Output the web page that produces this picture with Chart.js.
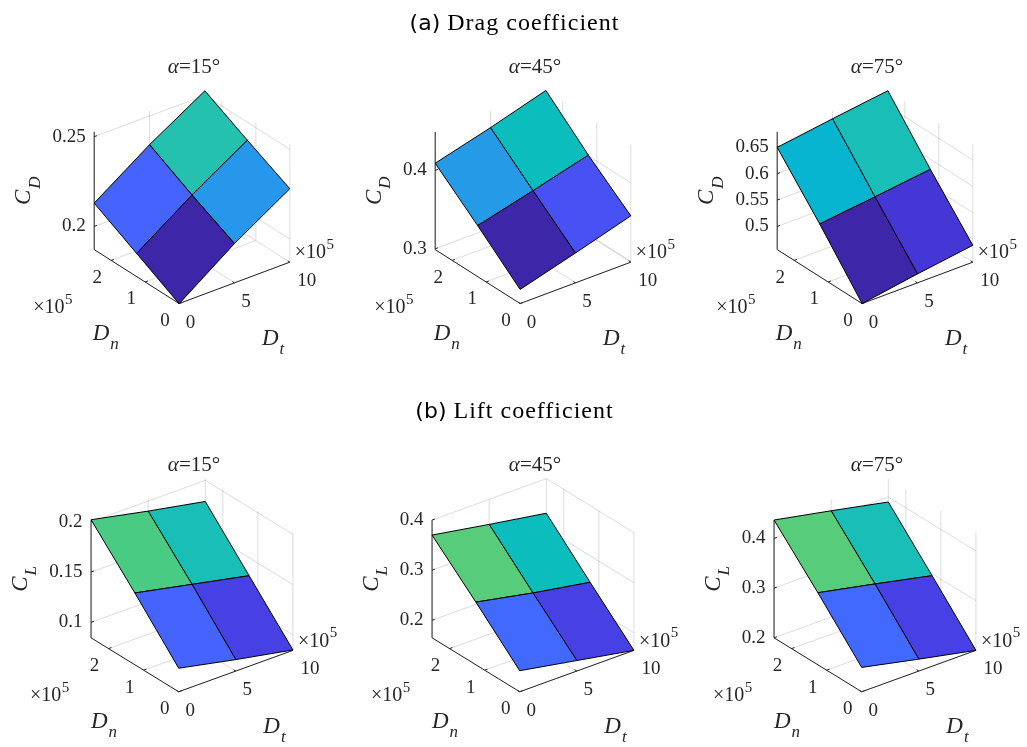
<!DOCTYPE html>
<html>
<head>
<meta charset="utf-8">
<title>Drag and lift coefficient surfaces</title>
<script src="https://cdn.jsdelivr.net/npm/chart.js@4.4.1/dist/chart.umd.min.js"></script>
<style>
  html, body { margin: 0; padding: 0; background: #fff; }
  canvas { display: block; }
</style>
</head>
<body>
<canvas id="surfaces" width="1027" height="747"></canvas>
<script>
/* Datos (D_n y D_t en unidades de 10^5) */
const angles = [15, 45, 75];
const dnGrid = [0, 1.25, 2.5];
const dtGrid = [0, 5, 10];
const dnTicks = [0, 1, 2];
const dtTicks = [0, 5, 10];

// filas = D_n (0, 1.25, 2.5), columnas = D_t (0, 5, 10)
const cd15 = [[0.187, 0.209, 0.228], [0.200, 0.221, 0.240], [0.213, 0.234, 0.2525]];
const cd45 = [[0.317, 0.337, 0.358], [0.364, 0.382, 0.401], [0.409, 0.428, 0.449]];
const cd75 = [[0.456, 0.473, 0.488], [0.556, 0.568, 0.581], [0.650, 0.665, 0.679]];
const cl15 = [[0.108, 0.096, 0.085], [0.156, 0.144, 0.132], [0.202, 0.190, 0.179]];
const cl45 = [[0.207, 0.186, 0.165], [0.290, 0.267, 0.247], [0.370, 0.350, 0.331]];
const cl75 = [[0.249, 0.224, 0.200], [0.345, 0.321, 0.296], [0.437, 0.414, 0.390]];

const cdLimits = [[0.1871, 0.2527], [0.299, 0.449], [0.456, 0.6795]];
const clLimits = [[0.0846, 0.2017], [0.165, 0.4], [0.2, 0.437]];
const cdTicks = [[0.2, 0.25], [0.3, 0.4], [0.5, 0.55, 0.6, 0.65]];
const clTicks = [[0.1, 0.15, 0.2], [0.2, 0.3, 0.4], [0.2, 0.3, 0.4]];

/* Mapa de colores parula (64) */
const parula = [
  [0.2422,0.1504,0.6603],[0.2504,0.1650,0.7076],[0.2578,0.1818,0.7511],[0.2647,0.1978,0.7952],
  [0.2706,0.2147,0.8364],[0.2751,0.2342,0.8710],[0.2783,0.2559,0.8991],[0.2803,0.2782,0.9221],
  [0.2813,0.3006,0.9414],[0.2810,0.3228,0.9579],[0.2795,0.3447,0.9717],[0.2760,0.3667,0.9829],
  [0.2699,0.3892,0.9906],[0.2602,0.4123,0.9952],[0.2440,0.4358,0.9988],[0.2206,0.4603,0.9973],
  [0.1963,0.4847,0.9892],[0.1834,0.5074,0.9798],[0.1786,0.5289,0.9682],[0.1764,0.5499,0.9520],
  [0.1687,0.5703,0.9359],[0.1540,0.5902,0.9218],[0.1460,0.6091,0.9079],[0.1380,0.6276,0.8973],
  [0.1248,0.6459,0.8883],[0.1113,0.6635,0.8763],[0.0952,0.6798,0.8598],[0.0689,0.6948,0.8394],
  [0.0297,0.7082,0.8163],[0.0036,0.7203,0.7917],[0.0067,0.7312,0.7660],[0.0433,0.7411,0.7394],
  [0.0964,0.7500,0.7120],[0.1408,0.7584,0.6842],[0.1717,0.7670,0.6554],[0.1938,0.7758,0.6251],
  [0.2161,0.7843,0.5923],[0.2470,0.7918,0.5567],[0.2906,0.7973,0.5188],[0.3406,0.8008,0.4789],
  [0.3909,0.8029,0.4354],[0.4456,0.8024,0.3909],[0.5044,0.7993,0.3480],[0.5616,0.7942,0.3045],
  [0.6174,0.7876,0.2612],[0.6720,0.7793,0.2227],[0.7242,0.7698,0.1910],[0.7738,0.7598,0.1646],
  [0.8203,0.7498,0.1535],[0.8634,0.7406,0.1596],[0.9035,0.7330,0.1774],[0.9393,0.7288,0.2100],
  [0.9728,0.7298,0.2394],[0.9956,0.7434,0.2371],[0.9970,0.7659,0.2199],[0.9952,0.7893,0.2028],
  [0.9892,0.8136,0.1885],[0.9786,0.8386,0.1766],[0.9676,0.8639,0.1643],[0.9610,0.8890,0.1537],
  [0.9597,0.9135,0.1423],[0.9628,0.9373,0.1265],[0.9691,0.9606,0.1064],[0.9769,0.9839,0.0805],
];

const colorFor = (v, cmin, cmax) => {
  const idx = Math.max(0, Math.min(63, Math.floor((v - cmin) / (cmax - cmin) * 64)));
  const c = parula[idx];
  return `rgb(${Math.round(c[0] * 255)}, ${Math.round(c[1] * 255)}, ${Math.round(c[2] * 255)})`;
};

/* Layout de la figura */
const W = 1027, H = 747;
const colX = [192, 533, 875];
const rowLayout = [
  { cy: 197, sh: 139.5, sv: 136, titleY: 72.5, headerY: 29.5 },
  { cy: 585.2, sh: 144, sv: 136, titleY: 471, headerY: 418 },
];
const rows = [
  { header: ["(a)", " Drag coefficient"], sub: "D", values: [cd15, cd45, cd75], limits: cdLimits, ticks: cdTicks },
  { header: ["(b)", " Lift coefficient"], sub: "L", values: [cl15, cl45, cl75], limits: clLimits, ticks: clTicks },
];

// vista 3D tipo MATLAB: az = -37.5, el = 30
const AZ = 37.5 * Math.PI / 180, EL = 30 * Math.PI / 180;
const ca = Math.cos(AZ), sa = Math.sin(AZ), ce = Math.cos(EL), se = Math.sin(EL);
const dnMax = dnGrid[dnGrid.length - 1];
const dtMax = dtGrid[dtGrid.length - 1];

const project = (p, dn, dt, z) => {
  const X = dt / dtMax - 0.5;
  const Y = dn / dnMax - 0.5;
  const Z = (z - p.zMin) / (p.zMax - p.zMin) - 0.5;
  return {
    x: p.cx + p.sh * (ca * X - sa * Y),
    y: p.cy - p.sv * (se * (sa * X + ca * Y) + ce * Z),
  };
};

const panels = [];
rows.forEach((row, r) => {
  angles.forEach((angle, c) => {
    const vals = row.values[c];
    const flat = vals.flat();
    panels.push({
      row: r, angle, sub: row.sub, values: vals,
      cmin: Math.min(...flat), cmax: Math.max(...flat),
      zMin: row.limits[c][0], zMax: row.limits[c][1], zTicks: row.ticks[c],
      cx: colX[c], cy: rowLayout[r].cy, sh: rowLayout[r].sh, sv: rowLayout[r].sv,
    });
  });
});

const gridColor = "rgba(38, 38, 38, 0.16)";
const axisColor = "#262626";
const datasets = [];
const addLine = (pts, color, extra = {}) => {
  datasets.push({
    data: pts, borderColor: color, borderWidth: 1, showLine: true,
    pointRadius: 0, fill: false, tension: 0, order: -datasets.length, ...extra,
  });
};

panels.forEach((p) => {
  const P = (dn, dt, z) => project(p, dn, dt, z);
  // grid: suelo y paredes del fondo
  dtTicks.forEach((t) => addLine([P(0, t, p.zMin), P(dnMax, t, p.zMin)], gridColor));
  dnTicks.forEach((n) => addLine([P(n, 0, p.zMin), P(n, dtMax, p.zMin)], gridColor));
  dtTicks.forEach((t) => addLine([P(dnMax, t, p.zMin), P(dnMax, t, p.zMax)], gridColor));
  dnTicks.forEach((n) => addLine([P(n, dtMax, p.zMin), P(n, dtMax, p.zMax)], gridColor));
  p.zTicks.forEach((z) => {
    addLine([P(dnMax, 0, z), P(dnMax, dtMax, z)], gridColor);
    addLine([P(0, dtMax, z), P(dnMax, dtMax, z)], gridColor);
  });
  // ejes
  addLine([P(0, 0, p.zMin), P(0, dtMax, p.zMin)], axisColor);
  addLine([P(0, 0, p.zMin), P(dnMax, 0, p.zMin)], axisColor);
  addLine([P(dnMax, 0, p.zMin), P(dnMax, 0, p.zMax)], axisColor);
  dtTicks.forEach((t) => addLine([P(0, t, p.zMin), P(0.025 * dnMax, t, p.zMin)], axisColor));
  dnTicks.forEach((n) => addLine([P(n, 0, p.zMin), P(n, 0.025 * dtMax, p.zMin)], axisColor));
  p.zTicks.forEach((z) => addLine([P(dnMax, 0, z), P(dnMax, 0.025 * dtMax, z)], axisColor));
  // superficie (de atras hacia adelante)
  [[1, 1], [1, 0], [0, 1], [0, 0]].forEach(([i, j]) => {
    const v = p.values;
    const pts = [
      P(dnGrid[i], dtGrid[j], v[i][j]),
      P(dnGrid[i + 1], dtGrid[j], v[i + 1][j]),
      P(dnGrid[i + 1], dtGrid[j + 1], v[i + 1][j + 1]),
      P(dnGrid[i], dtGrid[j + 1], v[i][j + 1]),
    ];
    pts.push(pts[0]);
    addLine(pts, "#000000", { faceColor: colorFor(v[i][j], p.cmin, p.cmax) });
  });
});

/* Relleno de las caras + textos */
const serif = '"Liberation Serif", "Times New Roman", serif';

const surfacePlugin = {
  id: "surface3d",
  beforeDatasetDraw(chart, args) {
    const ds = chart.data.datasets[args.index];
    if (!ds.faceColor) return;
    const ctx = chart.ctx;
    ctx.save();
    ctx.beginPath();
    args.meta.data.forEach((pt, k) => (k ? ctx.lineTo(pt.x, pt.y) : ctx.moveTo(pt.x, pt.y)));
    ctx.closePath();
    ctx.fillStyle = ds.faceColor;
    ctx.fill();
    ctx.restore();
  },
  afterDraw(chart) {
    const ctx = chart.ctx;
    const sx = chart.scales.x, sy = chart.scales.y;
    const px = (pt) => ({ x: sx.getPixelForValue(pt.x), y: sy.getPixelForValue(pt.y) });
    ctx.save();
    ctx.fillStyle = axisColor;

    const italicSub = (x, y, main, sub, size) => {
      ctx.font = `italic ${size}px ${serif}`;
      ctx.textAlign = "left";
      ctx.textBaseline = "alphabetic";
      ctx.fillText(main, x, y);
      const w = ctx.measureText(main).width;
      ctx.font = `italic ${Math.round(size * 0.72)}px ${serif}`;
      ctx.fillText(sub, x + w + 1, y + size * 0.4);
    };
    const timesTen = (x, y) => {
      ctx.font = `20px ${serif}`;
      ctx.textAlign = "left";
      ctx.textBaseline = "middle";
      ctx.fillText("\u00d710", x, y);
      const w = ctx.measureText("\u00d710").width;
      ctx.font = `15px ${serif}`;
      ctx.fillText("5", x + w + 0.5, y - 8);
    };

    // cabeceras
    rows.forEach((row, r) => {
      ctx.fillStyle = "#000";
      ctx.textBaseline = "alphabetic";
      ctx.textAlign = "left";
      ctx.font = `22px "DejaVu Sans", sans-serif`;
      const w1 = ctx.measureText(row.header[0]).width;
      ctx.font = `24px ${serif}`;
      if ("letterSpacing" in ctx) ctx.letterSpacing = "1px";
      const w2 = ctx.measureText(row.header[1]).width;
      const x0 = W / 2 + 1 - (w1 + w2) / 2;
      ctx.fillText(row.header[1], x0 + w1, rowLayout[r].headerY);
      if ("letterSpacing" in ctx) ctx.letterSpacing = "0px";
      ctx.font = `22px "DejaVu Sans", sans-serif`;
      ctx.fillText(row.header[0], x0, rowLayout[r].headerY);
    });
    ctx.fillStyle = axisColor;

    panels.forEach((p) => {
      const P = (dn, dt, z) => px(project(p, dn, dt, z));
      // titulo alpha
      ctx.textBaseline = "alphabetic";
      ctx.font = `italic 21px ${serif}`;
      const aW = ctx.measureText("\u03b1").width;
      ctx.font = `21px ${serif}`;
      const rest = `=${p.angle}\u00b0`;
      const rW = ctx.measureText(rest).width;
      const tx = p.cx + 2 - (aW + rW) / 2;
      const ty = rowLayout[p.row].titleY;
      ctx.textAlign = "left";
      ctx.font = `italic 21px ${serif}`;
      ctx.fillText("\u03b1", tx, ty);
      ctx.font = `21px ${serif}`;
      ctx.fillText(rest, tx + aW, ty);

      // ticks z
      ctx.font = `19px ${serif}`;
      ctx.textAlign = "right";
      ctx.textBaseline = "middle";
      let maxW = 0;
      p.zTicks.forEach((z) => {
        const q = P(dnMax, 0, z);
        const label = String(z);
        maxW = Math.max(maxW, ctx.measureText(label).width);
        ctx.fillText(label, q.x - 8.5, q.y);
      });
      // etiqueta C_D / C_L (rotada)
      const zb = P(dnMax, 0, p.zMin), zt = P(dnMax, 0, p.zMax);
      ctx.save();
      ctx.translate(zb.x - 8.5 - maxW - 22, (zb.y + zt.y) / 2);
      ctx.rotate(-Math.PI / 2);
      ctx.font = `italic 23px ${serif}`;
      const cw = ctx.measureText("C").width;
      ctx.font = `italic 17px ${serif}`;
      const dw = ctx.measureText(p.sub).width;
      italicSub(-(cw + dw + 1) / 2, 0, "C", p.sub, 23);
      ctx.restore();

      // ticks D_n y D_t
      ctx.font = `19px ${serif}`;
      ctx.textAlign = "center";
      ctx.textBaseline = "middle";
      dnTicks.forEach((n) => {
        const q = P(n, 0, p.zMin);
        ctx.fillText(String(n), q.x - 14, q.y + 17.5);
      });
      dtTicks.forEach((t) => {
        const q = P(0, t, p.zMin);
        ctx.fillText(String(t), q.x + (t >= 10 ? 17 : 11.5), q.y + 19);
      });
      // multiplicadores
      const left = P(dnMax, 0, p.zMin), right = P(0, dtMax, p.zMin);
      timesTen(left.x - 61, left.y + 58);
      timesTen(right.x + 5, right.y - 9);
      // etiquetas D_n, D_t
      const mn = P(dnMax / 2, 0, p.zMin), mt = P(0, dtMax / 2, p.zMin);
      italicSub(mn.x - 44, mn.y + 63, "D", "n", 23);
      italicSub(mt.x + 27.5, mt.y + 62, "D", "t", 23);
    });
    ctx.restore();
  },
};

new Chart(document.getElementById("surfaces"), {
  type: "scatter",
  data: { datasets },
  options: {
    responsive: false,
    devicePixelRatio: 1,
    animation: false,
    events: [],
    layout: { padding: 0 },
    plugins: { legend: { display: false }, tooltip: { enabled: false } },
    scales: {
      x: { type: "linear", min: 0, max: W, display: false },
      y: { type: "linear", min: 0, max: H, reverse: true, display: false },
    },
  },
  plugins: [surfacePlugin],
});
</script>
</body>
</html>
